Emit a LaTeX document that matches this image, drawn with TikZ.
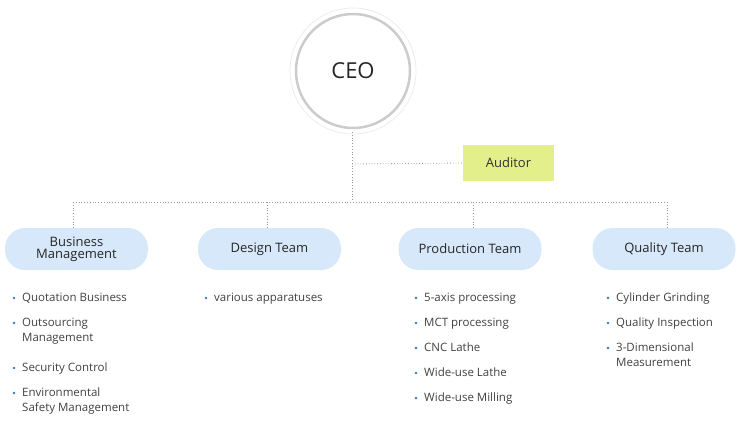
\documentclass[tikz,border=0pt]{standalone}
\usepackage{fontspec}
\setmainfont{Open Sans}
\begin{document}
\begin{tikzpicture}[x=1pt,y=-1pt,
 team/.style={fill=teamblue,rounded corners=20pt,minimum width=143pt,minimum height=42pt,inner sep=0pt,font=\fontsize{13}{14}\selectfont,text=black!85,align=center},
 conn/.style={draw=gray!80,dotted,line width=0.8pt},
 item/.style={anchor=north west,inner sep=0pt,font=\fontsize{11.5}{15}\selectfont,text=black!75,align=left},
 dot/.style={circle,fill=bulletblue,inner sep=0pt,minimum size=2.6pt}]
\definecolor{teamblue}{HTML}{D6E8FA}
\definecolor{bulletblue}{HTML}{2E7BC4}
\definecolor{audgreen}{HTML}{E2EF8B}
\useasboundingbox (0,0) rectangle (740,426);
\draw[gray!15,line width=0.8pt] (353,71) circle (63);
\draw[gray!40,line width=2.5pt] (353,71) circle (57);
\node[font=\fontsize{22}{24}\selectfont,text=black!85] (ceo) at (353,71) {CEO};
\node[fill=audgreen,minimum width=91pt,minimum height=36pt,inner sep=0pt,font=\fontsize{13}{14}\selectfont,text=black!80] (aud) at (508.5,163) {Auditor};
\node[team] (bm) at (76.5,249) {Business\\[-2pt]Management};
\node[team] (dt) at (269.5,249) {Design Team};
\node[team] (pt) at (470,249) {Production Team};
\node[team] (qt) at (664,249) {Quality Team};
\coordinate (top) at (352,132);
\coordinate (j) at (352,202);
\draw[conn] (top) -- (j);
\draw[conn] (352,164) -- (aud.west);
\draw[conn] (73,202) -- (667,202);
\foreach \x/\n in {73/bm,267/dt,473/pt,667/qt}{\draw[conn] (\x,202) -- (\x,228);}
% bullets
\foreach \x/\y/\t in {22/293/Quotation Business,22/318/Outsourcing\\Management,22/363/Security Control,22/388/Environmental\\Safety Management,
 214/293/various apparatuses\\/JIG Design,
 424/293/5-axis processing,424/318/MCT processing,424/343/CNC Lathe,424/368/Wide-use Lathe,424/393/Wide-use Milling,
 616/293/Cylinder Grinding,616/318/Quality Inspection,616/343/3-Dimensional\\Measurement}{
 \node[item] at (\x,\y) {\t};
 \node[dot] at (\x-8,\y+5) {};
}
\end{tikzpicture}
\end{document}
